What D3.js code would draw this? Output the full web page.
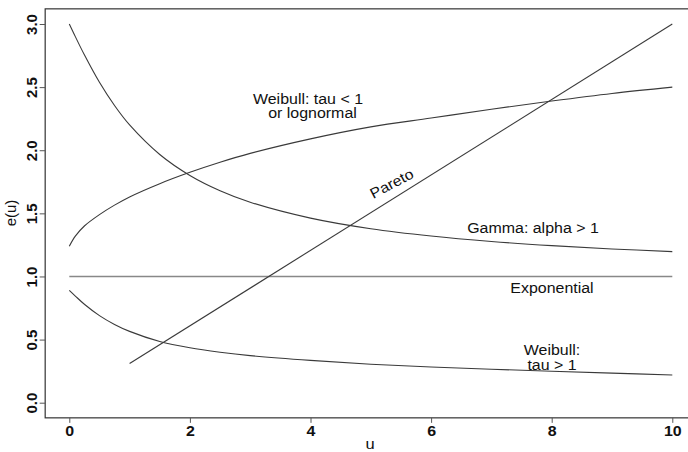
<!DOCTYPE html>
<html>
<head>
<meta charset="utf-8">
<script src="https://cdn.jsdelivr.net/npm/d3@7"></script>
<style>
  html, body { margin: 0; padding: 0; background: #fff; }
  svg { display: block; }
  text { font-family: "Liberation Sans", Arial, Helvetica, sans-serif; fill: #111; }
</style>
</head>
<body>
<svg id="chart" width="688" height="452"></svg>
<script>
// Mean excess (mean residual life) functions e(u) for several loss distributions
const uGrid = [0, 0.1, 0.25, 0.5, 0.75, 1, 1.5, 2, 2.5, 3, 4, 5, 6, 7, 8, 9, 10];
const gammaE = [3.00, 2.90, 2.756, 2.538, 2.354, 2.20, 1.966, 1.80, 1.679, 1.588, 1.462, 1.378, 1.32, 1.277, 1.244, 1.218, 1.197];
const weibullLowTauE = [1.24, 1.32, 1.40, 1.49, 1.565, 1.63, 1.735, 1.825, 1.905, 1.975, 2.09, 2.185, 2.255, 2.325, 2.39, 2.45, 2.50];
const weibullHighTauE = [0.89, 0.845, 0.78, 0.69, 0.62, 0.565, 0.485, 0.435, 0.40, 0.373, 0.335, 0.305, 0.283, 0.265, 0.249, 0.234, 0.22];
const paretoU = [1, 10];
const paretoE = [0.31, 3.0];
const expU = [0, 10];
const expE = [1, 1];

const xTicks = [0, 2, 4, 6, 8, 10];
const yTicks = [0, 0.5, 1, 1.5, 2, 2.5, 3];

const svg = d3.select("#chart");
const x = d3.scaleLinear().domain([0, 10]).range([69.3, 672.3]);
const y = d3.scaleLinear().domain([0, 3]).range([402.7, 24]);

// plot frame (extended data range, right side runs past the page)
svg.append("rect")
  .attr("x", x(-0.4)).attr("y", y(3.12))
  .attr("width", x(10.4) - x(-0.4)).attr("height", y(-0.12) - y(3.12))
  .attr("fill", "none").attr("stroke", "#333").attr("stroke-width", 1.2);

// axes
const xAxis = svg.append("g")
  .attr("transform", `translate(0,${y(-0.12)})`)
  .call(d3.axisBottom(x).tickValues(xTicks).tickSize(5).tickSizeOuter(0).tickFormat(d3.format("d")));
xAxis.select(".domain").remove();
xAxis.selectAll("line").attr("stroke", "#555");
xAxis.selectAll("text")
  .attr("y", 0).attr("dy", null)
  .attr("transform", "translate(0,18) scale(1.1,1)")
  .style("font-family", "'Liberation Sans', Arial, sans-serif")
  .style("font-size", "14.5px").style("font-weight", "bold").attr("fill", "#111");

const yAxis = svg.append("g")
  .attr("transform", `translate(${x(-0.4)},0)`)
  .call(d3.axisLeft(y).tickValues(yTicks).tickSize(5.5).tickSizeOuter(0).tickFormat(d3.format(".1f")));
yAxis.select(".domain").remove();
yAxis.selectAll("line").attr("stroke", "#555");
yAxis.selectAll("text")
  .attr("x", 0).attr("dy", null)
  .attr("text-anchor", "middle")
  .attr("transform", "translate(-8.5,0) rotate(-90)")
  .style("font-family", "'Liberation Sans', Arial, sans-serif")
  .style("font-size", "15px").style("font-weight", "bold").attr("fill", "#111");

// axis titles
svg.append("text").attr("transform", "translate(370,449) scale(1.1,1)")
  .attr("text-anchor", "middle").style("font-size", "15px").text("u");
svg.append("text").attr("transform", "translate(16,213) rotate(-90)")
  .attr("text-anchor", "middle").style("font-size", "15px").text("e(u)");

// curves
const line = d3.line().x(d => x(d[0])).y(d => y(d[1])).curve(d3.curveCatmullRom.alpha(0.5));
const curves = [
  { u: expU, e: expE, color: "#888", width: 1.4 },
  { u: uGrid, e: gammaE, color: "#3a3a3a", width: 1.1 },
  { u: uGrid, e: weibullLowTauE, color: "#3a3a3a", width: 1.1 },
  { u: uGrid, e: weibullHighTauE, color: "#3a3a3a", width: 1.1 },
  { u: paretoU, e: paretoE, color: "#3a3a3a", width: 1.1 }
];
curves.forEach(c => {
  svg.append("path")
    .datum(c.u.map((u, i) => [u, c.e[i]]))
    .attr("d", line)
    .attr("fill", "none")
    .attr("stroke", c.color)
    .attr("stroke-width", c.width);
});

// curve labels
const labels = [
  { t: "Weibull: tau < 1", cx: 308, by: 104 },
  { t: "or lognormal", cx: 312.5, by: 117.5 },
  { t: "Gamma: alpha > 1", cx: 533, by: 232.7 },
  { t: "Exponential", cx: 552, by: 292.7 },
  { t: "Weibull:", cx: 552, by: 355 },
  { t: "tau > 1", cx: 552, by: 369.5 }
];
labels.forEach(l => {
  svg.append("text")
    .attr("transform", `translate(${l.cx},${l.by}) scale(1.1,1)`)
    .attr("text-anchor", "middle")
    .style("font-size", "14.5px")
    .text(l.t);
});
svg.append("text")
  .attr("transform", "translate(394,188) rotate(-28) scale(1.1,1)")
  .attr("text-anchor", "middle")
  .style("font-size", "14.5px")
  .text("Pareto");
</script>
</body>
</html>
